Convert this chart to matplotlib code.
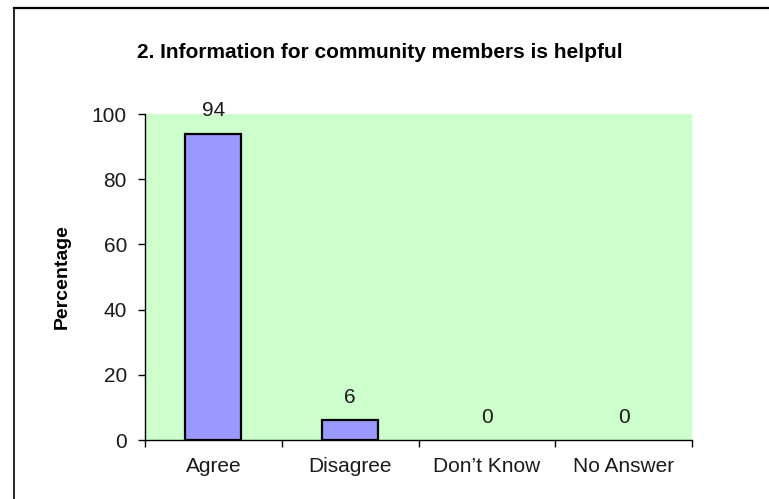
import matplotlib
matplotlib.use("Agg")
import matplotlib.pyplot as plt
from matplotlib.lines import Line2D

categories = ["Agree", "Disagree", "Don\u2019t Know", "No Answer"]
values = [94, 6, 0, 0]
yticks = [0, 20, 40, 60, 80, 100]
title = "2. Information for community members is helpful"
ylabel = "Percentage"

plt.rcParams['font.family'] = ['Liberation Sans', 'DejaVu Sans']

W, H = 769, 499
fig = plt.figure(figsize=(W / 100, H / 100), dpi=100)
ax = fig.add_axes([145 / W, (H - 440) / H, 547 / W, 326 / H])
ax.set_facecolor('#CCFFCC')

x = list(range(len(categories)))
bars = ax.bar(x, values, width=0.41, color='#9999FF', edgecolor='black', linewidth=1.6, zorder=3)
for b, v in zip(bars, values):
    if v == 0:
        b.set_visible(False)
for xi, v in zip(x, values):
    ax.annotate(str(v), xy=(xi, v), xytext=(0, 16.5), textcoords='offset points',
                ha='center', va='center', fontsize=15, color='#1a1a1a')

ax.set_xlim(-0.5, len(categories) - 0.5)
ax.set_ylim(0, 100)
ax.set_yticks(yticks)
ax.set_xticks(x)
ax.set_xticklabels(categories, fontsize=15, color='#1a1a1a')
ax.set_xticks([i - 0.5 for i in range(len(categories) + 1)], minor=True)
ax.tick_params(axis='x', which='major', length=0, pad=12)
ax.tick_params(axis='x', which='minor', length=5, width=1, direction='out')
ax.tick_params(axis='y', which='major', length=5, width=1, direction='out', pad=8, labelsize=15, labelcolor='#1a1a1a')
for s in ['top', 'right']:
    ax.spines[s].set_visible(False)
for s in ['left', 'bottom']:
    ax.spines[s].set_linewidth(1.0)
    ax.spines[s].set_color('black')

ax.set_ylabel(ylabel, fontsize=14, fontweight='bold')
ax.yaxis.set_label_coords((71 - 145) / 547, 0.5)
fig.text(380 / W, 1 - 52 / H, title, ha='center', va='center', fontsize=15, fontweight='bold')

# chart border (top and left visible)
fig.add_artist(Line2D([13.5 / W, 1.0], [1 - 7.5 / H, 1 - 7.5 / H], transform=fig.transFigure, color='black', lw=1.6))
fig.add_artist(Line2D([13.5 / W, 13.5 / W], [1 - 7.5 / H, 0.0], transform=fig.transFigure, color='black', lw=1.2))

fig.savefig("out.png", dpi=100)
